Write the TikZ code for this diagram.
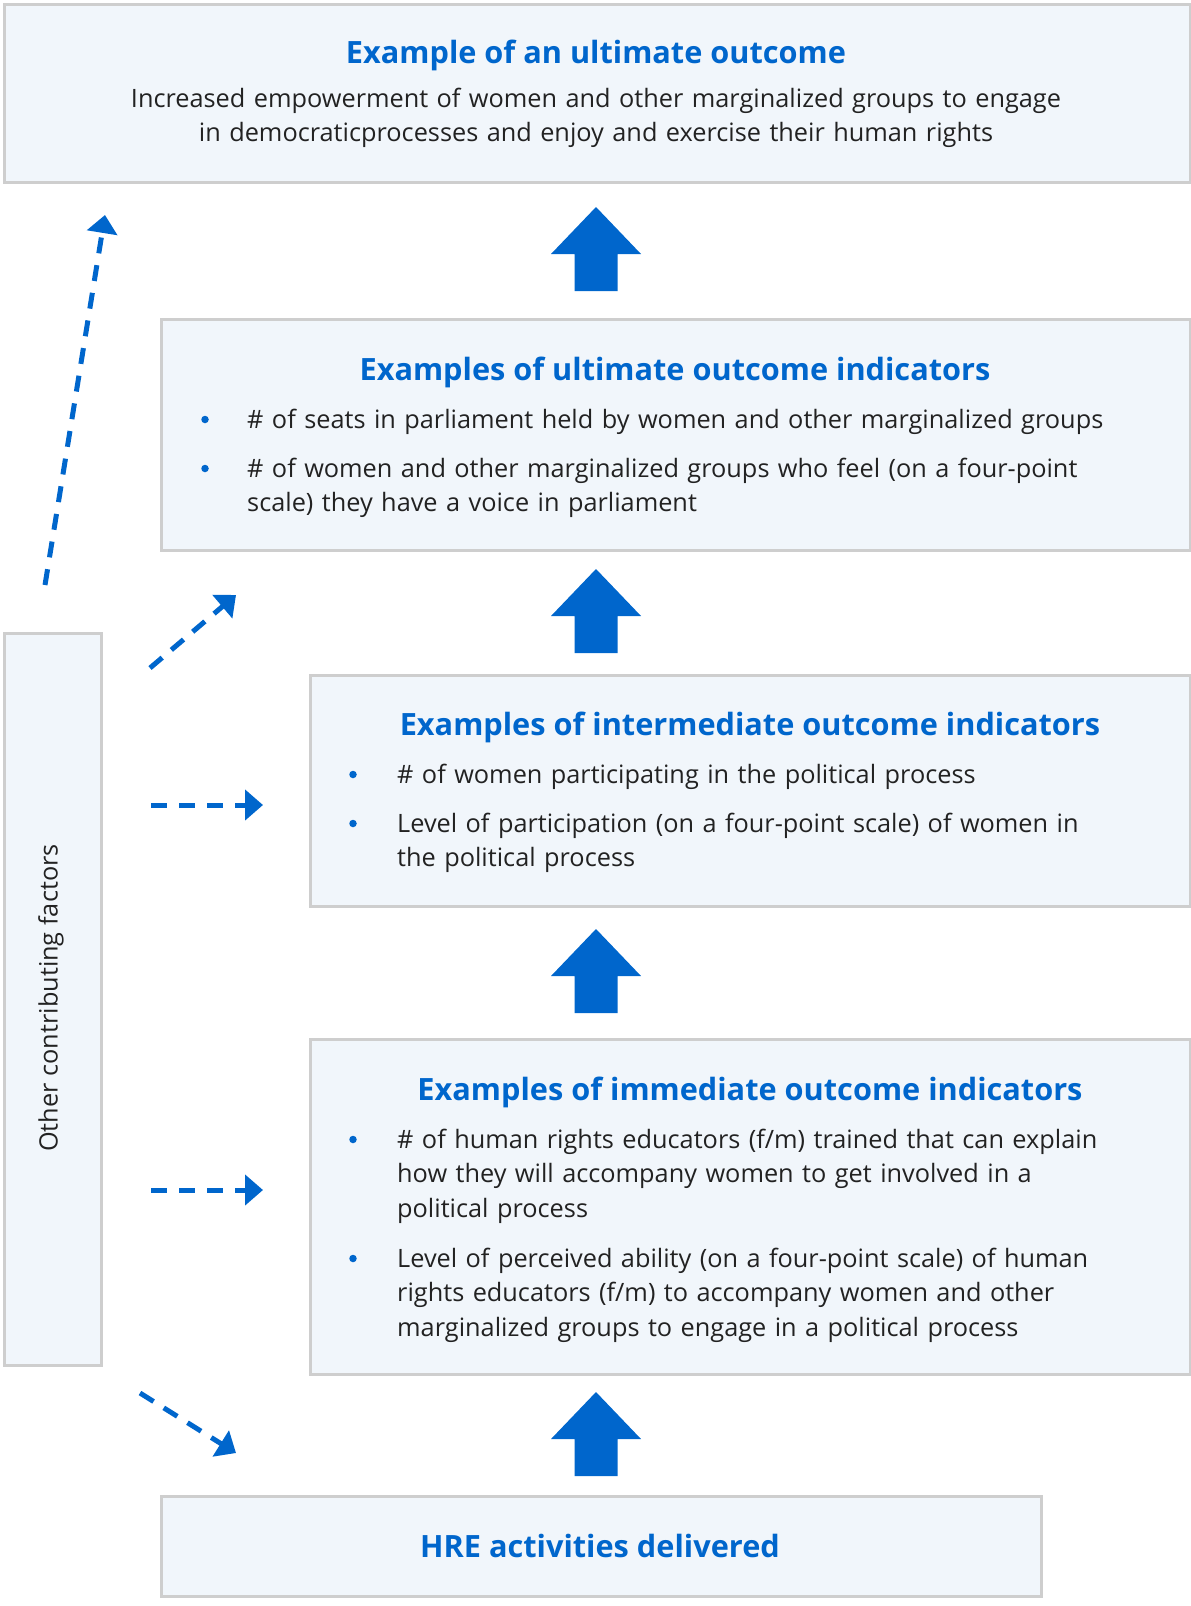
\documentclass[tikz,border=0pt]{standalone}
\usepackage{fontspec}
\setmainfont{Open Sans}
\usetikzlibrary{arrows.meta}
\definecolor{hreblue}{RGB}{0,102,204}
\definecolor{boxfill}{RGB}{241,246,251}
\definecolor{boxline}{RGB}{206,206,206}
\definecolor{txt}{RGB}{34,34,34}
\begin{document}
\begin{tikzpicture}[x=1pt,y=-1pt,
  box/.style={draw=boxline, line width=3pt, fill=boxfill, inner sep=0pt, anchor=north west},
  ttl/.style={text=hreblue, font=\fontsize{30.7}{36}\selectfont\bfseries, inner sep=0pt, anchor=base},
  bodytext/.style={text=txt, font=\fontsize{25.3}{34.5}\selectfont, inner sep=0pt},
  itemtext/.style={bodytext, anchor=north west, text width=#1, align=left},
  bul/.style={circle, fill=hreblue, inner sep=0pt, minimum size=7.5pt},
  dasharrow/.style={draw=hreblue, line width=5pt, dash pattern=on 16pt off 12pt, -{Triangle[length=18pt,width=30pt]}},
  bigarr/.pic={\fill[hreblue] (0,0) -- (45,47) -- (21.5,47) -- (21.5,84) -- (-21.5,84) -- (-21.5,47) -- (-45,47) -- cycle;}
]
\useasboundingbox (0,0) rectangle (1191,1606);

% boxes
\node[box, minimum width=1186.5pt, minimum height=178.5pt] (b1) at (2.5,2.5) {};
\node[box, minimum width=1029pt, minimum height=231pt] (b2) at (160,318) {};
\node[box, minimum width=880pt, minimum height=231pt] (b3) at (309,674) {};
\node[box, minimum width=880pt, minimum height=335pt] (b4) at (309,1038) {};
\node[box, minimum width=880pt, minimum height=100pt] (b5) at (160,1495) {};
\node[box, minimum width=97pt, minimum height=732pt] (bl) at (2.5,632) {};

% box 1
\node[ttl] (t1) at (596,63) {Example of an ultimate outcome};
\node[bodytext, anchor=north, text width=1150pt, align=center] (p1) at (596,82.85)
  {\strut Increased empowerment of women and other marginalized groups to engage\\ in democraticprocesses and enjoy and exercise their human rights};

% box 2
\node[ttl] (t2) at (675,380) {Examples of ultimate outcome indicators};
\node[bul] (u21) at (205,419.5) {};
\node[itemtext=960pt] (i21) at (247,403.85) {\strut \# of seats in parliament held by women and other marginalized groups};
\node[bul] (u22) at (205,468.5) {};
\node[itemtext=930pt] (i22) at (247,452.85) {\strut \# of women and other marginalized groups who feel (on a four-point\\ scale) they have a voice in parliament};

% box 3
\node[ttl] (t3) at (750,735) {Examples of intermediate outcome indicators};
\node[bul] (u31) at (353,774.5) {};
\node[itemtext=780pt] (i31) at (397,758.85) {\strut \# of women participating in the political process};
\node[bul] (u32) at (353,823.5) {};
\node[itemtext=780pt] (i32) at (397,807.85) {\strut Level of participation (on a four-point scale) of women in\\ the political process};

% box 4
\node[ttl] (t4) at (750,1100) {Examples of immediate outcome indicators};
\node[bul] (u41) at (353,1139.5) {};
\node[itemtext=780pt] (i41) at (397,1123.85) {\strut \# of human rights educators (f/m) trained that can explain\\ how they will accompany women to get involved in a\\ political process};
\node[bul] (u42) at (353,1258.5) {};
\node[itemtext=780pt] (i42) at (397,1242.85) {\strut Level of perceived ability (on a four-point scale) of human\\ rights educators (f/m) to accompany women and other\\ marginalized groups to engage in a political process};

% box 5
\node[ttl] (t5) at (600,1557) {HRE activities delivered};

% left label
\node[bodytext, rotate=90] (lab) at (51,998) {Other contributing factors};

% big arrows
\pic at (596,207) {bigarr};
\pic at (596,569) {bigarr};
\pic at (596,929) {bigarr};
\pic at (596,1392) {bigarr};

% dashed arrows
\coordinate (d1s) at (45,585);  \coordinate (d1e) at (105,215);
\coordinate (d2s) at (150,668); \coordinate (d2e) at (236,595);
\coordinate (d3s) at (151,805); \coordinate (d3e) at (263,805);
\coordinate (d4s) at (151,1190); \coordinate (d4e) at (263,1190);
\coordinate (d5s) at (140,1393); \coordinate (d5e) at (236,1453);
\draw[dasharrow] (d1s) -- (d1e);
\draw[dasharrow] (d2s) -- (d2e);
\draw[dasharrow] (d3s) -- (d3e);
\draw[dasharrow] (d4s) -- (d4e);
\draw[dasharrow] (d5s) -- (d5e);
\end{tikzpicture}
\end{document}
